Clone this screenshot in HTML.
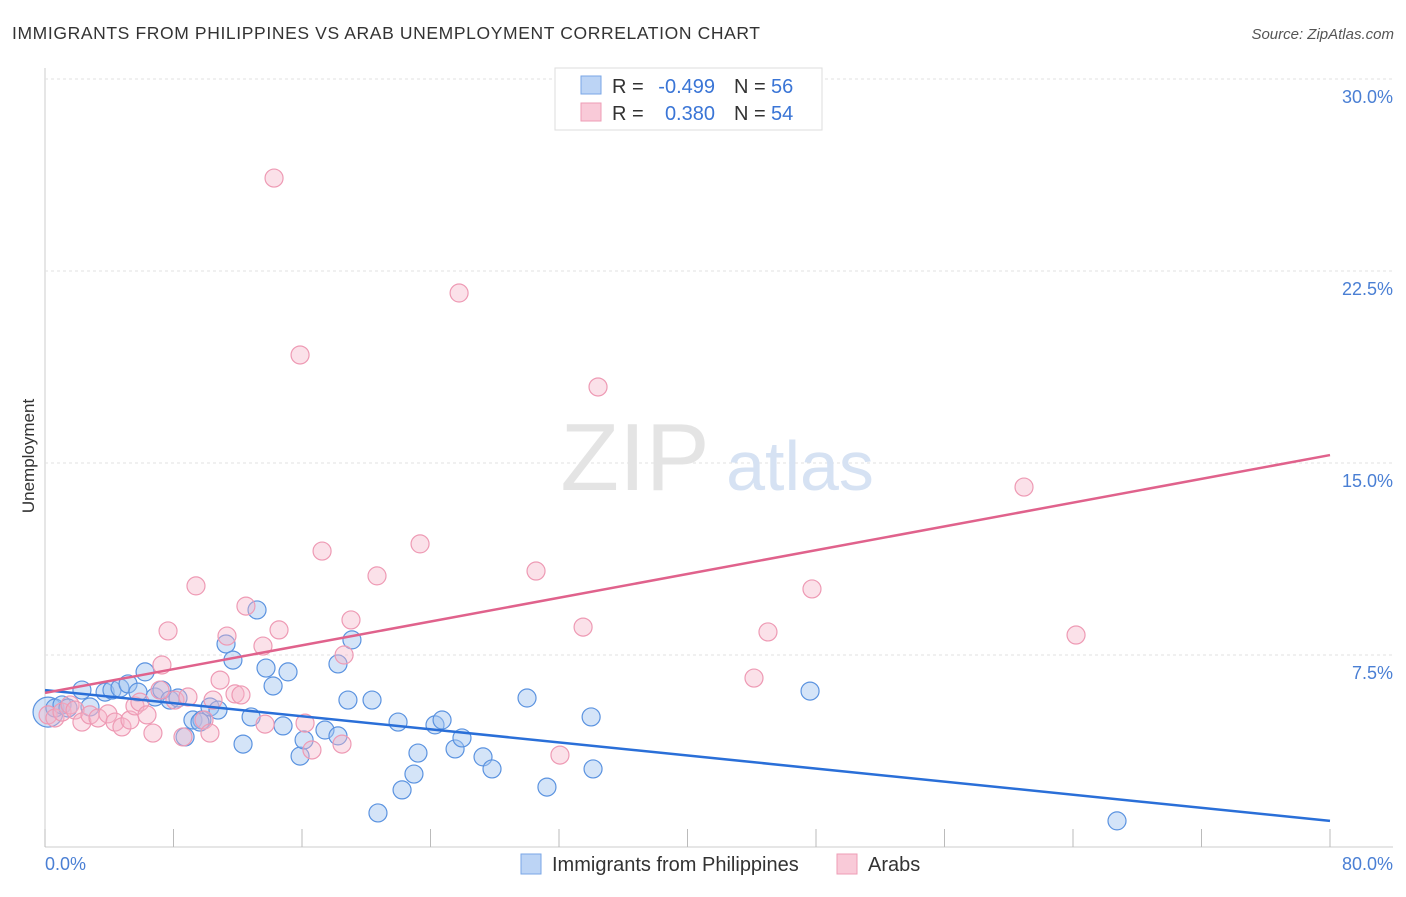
<!DOCTYPE html>
<html><head><meta charset="utf-8"><style>
body{margin:0;background:#fff;font-family:"Liberation Sans",sans-serif}
svg text{font-family:"Liberation Sans",sans-serif}
</style></head><body>
<svg width="1406" height="892" viewBox="0 0 1406 892">
<text x="12" y="39" font-size="17.5" fill="#333" textLength="748">IMMIGRANTS FROM PHILIPPINES VS ARAB UNEMPLOYMENT CORRELATION CHART</text>
<text x="1394" y="39" font-size="15" fill="#555" font-style="italic" text-anchor="end">Source: ZipAtlas.com</text>
<g id="grid"></g>
<text x="635" y="490" font-size="96" fill="#e4e4e4" font-family="Liberation Serif" text-anchor="middle">ZIP</text>
<text x="800" y="490" font-size="70" fill="#d6e2f3" text-anchor="middle">atlas</text>
<g id="pts"></g>
<g id="lines"></g>
<text transform="translate(34,456) rotate(-90)" font-size="17" fill="#333" text-anchor="middle">Unemployment</text>
<text x="45" y="870" font-size="18" fill="#4a7fd4">0.0%</text>
<text x="1393" y="870" font-size="18" fill="#4a7fd4" text-anchor="end">80.0%</text>
<g>
<rect x="555" y="68" width="267" height="62" fill="#fff" stroke="#ddd"/>
<rect x="581" y="76" width="20" height="18" fill="#bcd4f5" stroke="#7aa6e6"/>
<rect x="581" y="103" width="20" height="18" fill="#f9cad8" stroke="#ee9cb6"/>
<text x="612" y="93" font-size="20" fill="#333">R =</text>
<text x="715" y="93" font-size="20" fill="#3a75d6" text-anchor="end">-0.499</text>
<text x="734" y="93" font-size="20" fill="#333">N =</text>
<text x="771" y="93" font-size="20" fill="#3a75d6">56</text>
<text x="612" y="120" font-size="20" fill="#333">R =</text>
<text x="715" y="120" font-size="20" fill="#3a75d6" text-anchor="end">0.380</text>
<text x="734" y="120" font-size="20" fill="#333">N =</text>
<text x="771" y="120" font-size="20" fill="#3a75d6">54</text>
</g>
<g>
<rect x="521" y="854" width="20" height="20" fill="#bcd4f5" stroke="#7aa6e6"/>
<text x="552" y="871" font-size="20" fill="#333">Immigrants from Philippines</text>
<rect x="837" y="854" width="20" height="20" fill="#f9cad8" stroke="#ee9cb6"/>
<text x="868" y="871" font-size="20" fill="#333">Arabs</text>
</g>
</svg>
<script>
const yTicks=[7.5,15,22.5,30];
const yTickLabels=["7.5%","15.0%","22.5%","30.0%"];
const xTicks=[0,8,16,24,32,40,48,56,64,72,80];
const blueX=[0.19,0.62,1.06,1.43,2.30,2.80,3.74,4.17,4.67,5.17,5.79,6.23,6.85,7.28,7.78,8.28,8.72,9.21,9.77,10.27,10.77,11.27,11.70,12.33,12.83,13.20,13.76,14.20,14.82,15.13,15.88,16.13,17.43,18.24,19.11,18.86,18.24,20.36,20.73,21.98,22.23,22.97,23.22,24.28,24.72,25.53,25.96,27.27,27.83,30.01,31.25,34.0,34.12,47.63,66.74,9.65];
const blueY=[5.27,5.43,5.55,5.43,6.13,5.47,6.05,6.13,6.21,6.37,6.05,6.84,5.86,6.13,5.74,5.82,4.30,4.96,4.96,5.47,5.35,7.93,7.30,4.02,5.08,9.26,6.99,6.29,4.73,6.84,3.55,4.18,4.57,7.15,8.09,5.74,4.34,5.74,1.33,4.88,2.23,2.85,3.67,4.77,4.96,3.83,4.26,3.52,3.05,5.82,2.34,5.08,3.05,6.09,1.02,4.88];
const pinkX=[0.19,0.62,1.06,1.56,1.87,2.30,2.80,3.30,3.92,4.36,4.79,5.29,5.60,5.91,6.35,6.72,7.28,7.66,8.09,8.59,8.90,9.40,9.90,10.27,10.46,10.90,11.33,11.83,12.20,12.51,13.57,13.70,14.57,14.26,15.88,16.19,16.62,17.25,18.49,18.62,19.05,20.67,23.35,25.78,30.57,32.06,33.50,34.43,44.14,45.01,47.75,60.95,64.19,7.16];
const pinkY=[5.16,5.04,5.27,5.55,5.35,4.88,5.16,5.04,5.20,4.88,4.69,4.96,5.51,5.66,5.16,4.45,7.11,8.44,5.74,4.30,5.86,10.20,4.96,4.45,5.74,6.52,8.24,5.98,5.94,9.41,7.85,4.80,8.48,26.13,19.22,4.84,3.79,11.56,4.02,7.50,8.87,10.59,11.84,21.64,10.78,3.59,8.59,17.97,6.60,8.40,10.08,14.06,8.28,6.13];
const blueTrend=[6.13,1.02];
const pinkTrend=[6.02,15.31];
const NS="http://www.w3.org/2000/svg";
const X=v=>45+v/80*1285, Y=v=>847-v/7.5*192;
function mk(t,a,p){const e=document.createElementNS(NS,t);for(const k in a)e.setAttribute(k,a[k]);p.appendChild(e);return e;}
const g=document.getElementById('grid');
let ax=mk('line',{x1:45,y1:68,x2:45,y2:847,stroke:'#ccc'},g);


let bx=mk('line',{x1:45,y1:847,x2:1393,y2:847,stroke:'#ccc'},g);


yTicks.forEach((t,i)=>{
 const l=mk('line',{x1:45,y1:Y(t),x2:1393,y2:Y(t),stroke:'#e2e2e2','stroke-dasharray':'3,3'},g);
 
 
 const tx=mk('text',{x:1393,y:Y(t)+24,'font-size':18,fill:'#4a7fd4','text-anchor':'end'},g);
 tx.textContent=yTickLabels[i];
 
 
});
xTicks.forEach(t=>{
 const l=mk('line',{x1:X(t),y1:829,x2:X(t),y2:847,stroke:'#bbb'},g);
 
 
});
const p=document.getElementById('pts');
blueX.forEach((x,i)=>{
 const c=mk('circle',{cx:X(x),cy:Y(blueY[i]),r:i==0?15:9,fill:'rgba(160,196,240,0.45)',stroke:'#5b93e0','stroke-width':1.2},p);
 
 
});
pinkX.forEach((x,i)=>{
 const c=mk('circle',{cx:X(x),cy:Y(pinkY[i]),r:9,fill:'rgba(246,180,200,0.4)',stroke:'#ee9ab4','stroke-width':1.2},p);
 
 
});
const L=document.getElementById('lines');
const bl=mk('line',{x1:X(0),y1:Y(blueTrend[0]),x2:X(80),y2:Y(blueTrend[1]),stroke:'#2a6fd8','stroke-width':2.5},L);


const pl=mk('line',{x1:X(0),y1:Y(pinkTrend[0]),x2:X(80),y2:Y(pinkTrend[1]),stroke:'#e0628c','stroke-width':2.5},L);


</script>
</body></html>
